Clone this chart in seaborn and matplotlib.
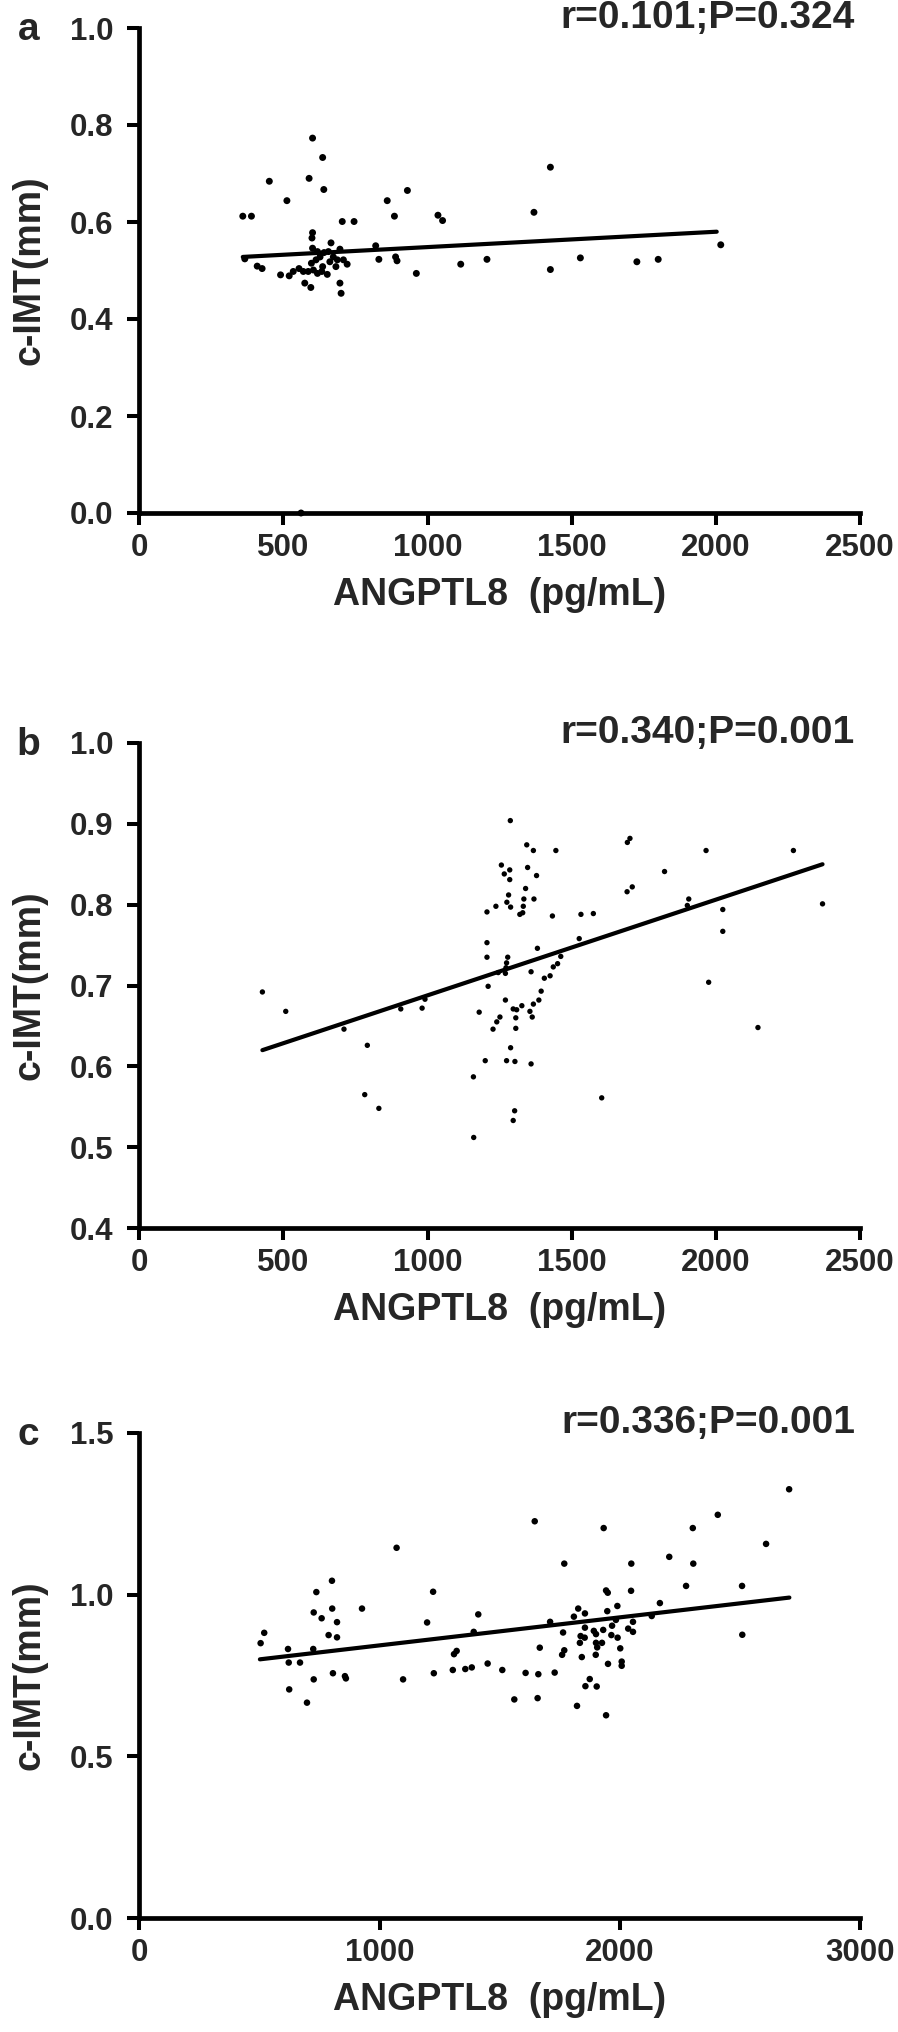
import matplotlib
matplotlib.use("Agg")
import matplotlib.pyplot as plt
import seaborn as sns
import pandas as pd
import numpy as np


# ============================================================
# DATA
# ============================================================

# panel a
a_x = [601, 636, 1426, 451, 589, 640, 930, 512, 860, 359, 389, 885, 1036, 1052,
       1369, 704, 745, 601, 599, 665, 820, 2017, 601, 696, 366, 831, 889, 894,
       1206, 1530, 1800, 1726, 1115, 1426, 409, 426, 961, 490, 520, 534, 554,
       574, 595, 696, 700, 569, 586, 604, 618, 597, 613, 627, 641, 656, 636,
       652, 661, 673, 682, 687, 708, 721, 633, 618, 561]
a_y = [0.773, 0.733, 0.713, 0.684, 0.690, 0.667, 0.665, 0.644, 0.644, 0.612,
       0.612, 0.612, 0.614, 0.603, 0.620, 0.601, 0.601, 0.578, 0.567, 0.557,
       0.551, 0.553, 0.546, 0.544, 0.524, 0.523, 0.528, 0.520, 0.523, 0.526,
       0.523, 0.518, 0.513, 0.502, 0.509, 0.504, 0.494, 0.491, 0.489, 0.498,
       0.504, 0.474, 0.465, 0.474, 0.453, 0.498, 0.498, 0.501, 0.494, 0.515,
       0.522, 0.528, 0.537, 0.539, 0.508, 0.492, 0.518, 0.528, 0.508, 0.522,
       0.522, 0.513, 0.498, 0.539, 0.0]
a_fit_x = [359, 2003]
a_fit_y = [0.528, 0.580]

# panel b
b_x = [1287, 1256, 1285, 1266, 1285, 1281, 1275, 1288, 1237, 1206, 1320, 1206,
       1206, 1278, 1274, 1272, 1270, 1245, 1210, 427, 508, 1270, 991, 907, 981,
       1179, 1297, 1309, 1306, 1251, 1240, 1227, 1306, 710, 791, 1288, 1200,
       1274, 1303, 1159, 782, 831, 1302, 1297, 1160,
       1702, 1693, 1344, 1367, 1445, 1966, 2269, 1347, 1378, 1822, 1340, 1692,
       1710, 1334, 1369, 1332, 1330, 1906, 1901, 2024, 2370, 1433, 1532, 1575,
       2024, 1526, 1381, 1462, 1451, 1436, 1359, 1425, 1405, 1975, 1394, 1386,
       1327, 1367, 1355, 1363, 2146, 1359, 1604]
b_y = [0.904, 0.849, 0.843, 0.838, 0.831, 0.812, 0.803, 0.797, 0.798, 0.791,
       0.788, 0.753, 0.735, 0.735, 0.728, 0.722, 0.715, 0.716, 0.699, 0.692,
       0.668, 0.682, 0.683, 0.671, 0.672, 0.667, 0.671, 0.670, 0.660, 0.661,
       0.655, 0.646, 0.647, 0.646, 0.626, 0.623, 0.607, 0.607, 0.606, 0.587,
       0.565, 0.548, 0.545, 0.533, 0.512,
       0.882, 0.877, 0.874, 0.867, 0.867, 0.867, 0.867, 0.846, 0.836, 0.841,
       0.820, 0.816, 0.822, 0.807, 0.807, 0.798, 0.790, 0.807, 0.799, 0.794,
       0.801, 0.786, 0.788, 0.789, 0.767, 0.758, 0.746, 0.736, 0.727, 0.723,
       0.717, 0.712, 0.709, 0.704, 0.693, 0.682, 0.675, 0.677, 0.668, 0.661,
       0.648, 0.603, 0.561]
b_fit_x = [427, 2370]
b_fit_y = [0.620, 0.850]

# panel c
c_x = [1071, 802, 737, 1223, 726, 803, 927, 759, 823, 1198, 1411, 520, 505,
       788, 823, 1392, 619, 724, 1321, 1310, 622, 669, 806, 856, 860, 726,
       1098, 1226, 1305, 1357, 1384, 1450, 1511, 624, 698, 1561,
       2705, 2408, 1646, 1933, 2304, 2609, 2206, 1769, 2048, 2306, 2276, 2509,
       1943, 1950, 2047, 2167, 1990, 1827, 1855, 1948, 1809, 1710, 2133, 2055,
       1984, 1968, 1855, 1764, 1931, 1892, 1901, 2035, 2055, 1837, 1854, 1965,
       1991, 1834, 1901, 1926, 1906, 1667, 1769, 1760, 2002, 1842, 1900, 1951,
       2008, 2008, 1608, 1661, 1729, 1875, 1857, 1904, 1658, 1822, 1943, 2510]
c_y = [1.145, 1.043, 1.008, 1.009, 0.945, 0.957, 0.957, 0.927, 0.915, 0.914,
       0.939, 0.882, 0.850, 0.875, 0.868, 0.885, 0.832, 0.832, 0.826, 0.816,
       0.790, 0.790, 0.757, 0.748, 0.741, 0.738, 0.738, 0.757, 0.767, 0.770,
       0.775, 0.787, 0.767, 0.707, 0.666, 0.676,
       1.326, 1.247, 1.227, 1.206, 1.206, 1.157, 1.117, 1.096, 1.096, 1.096,
       1.027, 1.027, 1.013, 1.006, 1.012, 0.974, 0.965, 0.957, 0.942, 0.949,
       0.932, 0.916, 0.934, 0.916, 0.922, 0.904, 0.898, 0.883, 0.891, 0.888,
       0.878, 0.895, 0.885, 0.872, 0.867, 0.875, 0.867, 0.851, 0.851, 0.851,
       0.837, 0.836, 0.828, 0.814, 0.834, 0.807, 0.814, 0.786, 0.793, 0.780,
       0.758, 0.754, 0.759, 0.739, 0.717, 0.716, 0.680, 0.656, 0.627, 0.876]
c_fit_x = [502, 2706]
c_fit_y = [0.800, 0.991]

panel_letters = ["a", "b", "c"]
stats_text = ["r=0.101;P=0.324", "r=0.340;P=0.001", "r=0.336;P=0.001"]
x_label = "ANGPTL8  (pg/mL)"
y_label = "c-IMT(mm)"


# ============================================================
# PLOT
# ============================================================
sns.set_style("ticks")
plt.rcParams["font.family"] = ["Liberation Sans", "DejaVu Sans"]
plt.rcParams["font.weight"] = "bold"

W, H = 898, 2032
fig = plt.figure(figsize=(W / 100, H / 100), dpi=100)

left = 139.3 / W
width = 720.7 / W
ax_h = 485 / H
bottoms = [(H - 513) / H, (H - 1228) / H, (H - 1918) / H]

panels = [
    (a_x, a_y, a_fit_x, a_fit_y, (0, 2500), np.arange(0, 2501, 500), (0, 1.0), np.arange(0, 1.01, 0.2), 25),
    (b_x, b_y, b_fit_x, b_fit_y, (0, 2500), np.arange(0, 2501, 500), (0.4, 1.0), np.arange(0.4, 1.01, 0.1), 15),
    (c_x, c_y, c_fit_x, c_fit_y, (0, 3000), np.arange(0, 3001, 1000), (0, 1.5), np.arange(0, 1.51, 0.5), 22),
]

for i, (xs, ys, fx, fy, xlim, xt, ylim, yt, msize) in enumerate(panels):
    ax = fig.add_axes([left, bottoms[i], width, ax_h])
    df = pd.DataFrame({"x": xs, "y": ys})
    fit = pd.DataFrame({"x": fx, "y": fy})

    sns.scatterplot(data=df, x="x", y="y", ax=ax, color="black", s=msize,
                    edgecolor="none", clip_on=False, zorder=3)
    sns.lineplot(data=fit, x="x", y="y", ax=ax, color="black", linewidth=3.0,
                 solid_capstyle="round", zorder=3)

    ax.set_xlim(*xlim)
    ax.set_ylim(*ylim)
    ax.set_xticks(xt)
    ax.set_yticks(yt)
    ax.set_xticklabels([f"{int(v)}" for v in xt])
    ax.set_yticklabels([f"{v:.1f}" for v in yt])

    sns.despine(ax=ax)
    for s in ["left", "bottom"]:
        ax.spines[s].set_linewidth(3.4)
        ax.spines[s].set_color("black")
    ax.tick_params(axis="both", direction="out", length=8.6, width=2.9,
                   color="black", labelsize=22.5)
    ax.tick_params(axis="y", pad=10)
    ax.tick_params(axis="x", pad=6)
    for lab in ax.get_xticklabels() + ax.get_yticklabels():
        lab.set_fontweight("bold")

    ax.set_xlabel(x_label, fontsize=27, fontweight="bold", labelpad=10)
    ax.set_ylabel(y_label, fontsize=27, fontweight="bold")
    ax.yaxis.set_label_coords(-0.128, 0.5)

    ax.text(0.993, 1.0, stats_text[i], transform=ax.transAxes, ha="right",
            va="baseline", fontsize=28, fontweight="bold")
    ax.text(-0.154, 0.975, panel_letters[i], transform=ax.transAxes,
            ha="center", va="baseline", fontsize=28, fontweight="bold")

fig.savefig("out.png", dpi=100)
plt.close(fig)
